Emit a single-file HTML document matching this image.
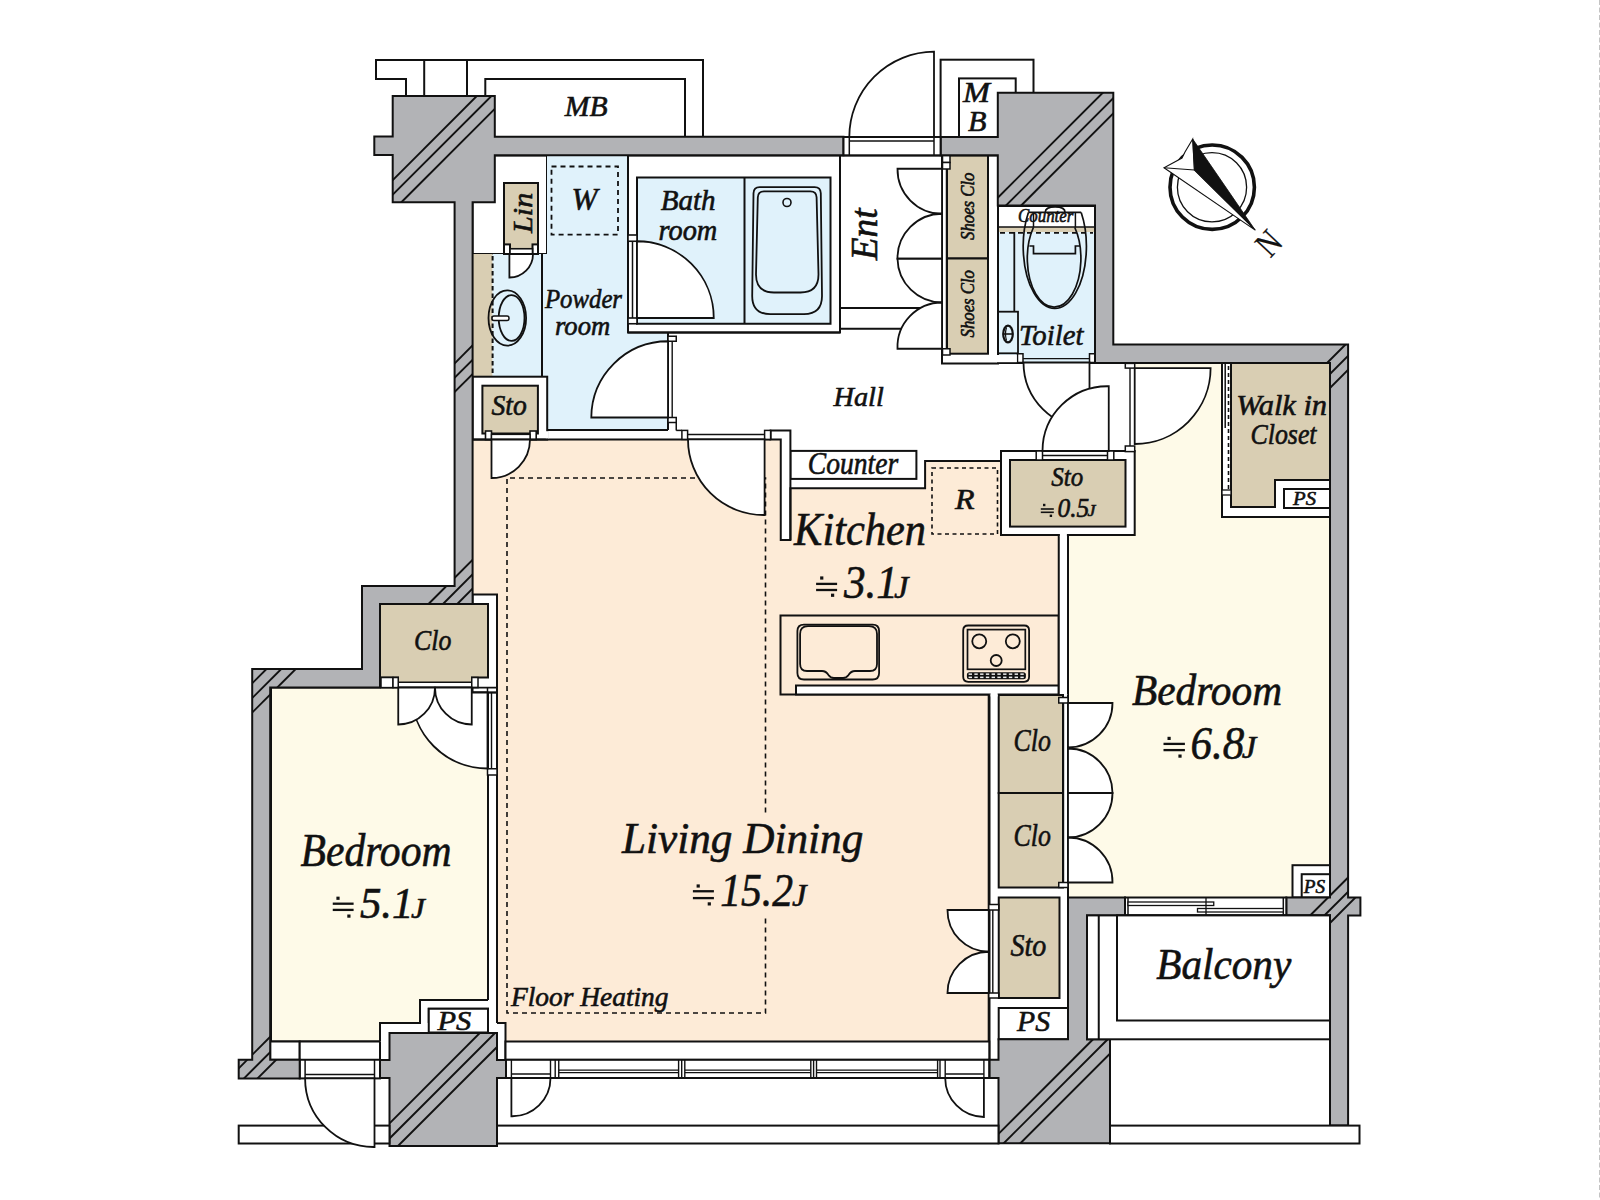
<!DOCTYPE html><html><head><meta charset="utf-8"><style>html,body{margin:0;padding:0;background:#fff;overflow:hidden}svg{display:block}text{font-family:"Liberation Serif",serif;font-style:italic;fill:#111;stroke:#111;stroke-width:0.6px}</style></head><body>
<svg width="1600" height="1200" viewBox="0 0 1600 1200">
<rect x="0" y="0" width="1600" height="1200" fill="#fff"/>
<line x1="1599.5" y1="0" x2="1599.5" y2="1200" stroke="#c4c4c4" stroke-width="1" stroke-dasharray="5,2.5"/>
<polyline points="406,96 406,79 376,79 376,60 703,60 703,136.5" fill="none" stroke="#111" stroke-width="2" />
<line x1="424.2" y1="60" x2="424.2" y2="96" stroke="#111" stroke-width="2" />
<line x1="467" y1="60" x2="467" y2="96" stroke="#111" stroke-width="2" />
<polyline points="485.3,136.5 485.3,79 685,79 685,136.5" fill="none" stroke="#111" stroke-width="2" />
<rect x="940.6" y="59.7" width="92.9" height="77.3" fill="#fff" stroke="#111" stroke-width="2" />
<rect x="959" y="78.4" width="56.7" height="58.6" fill="#fff" stroke="#111" stroke-width="2" />
<polygon points="472.5,439.4 780.75,439.4 780.75,540.1 790.4,540.1 790.4,488.2 925.1,488.2 925.1,460.9 1001,460.9 1001,535 1058.75,535 1058.75,694.5 988.7,694.5 988.7,1041.5 497,1041.5 497,692.5 472.5,692.5" fill="#FDEBD7" stroke="none" stroke-width="2" stroke-linejoin="miter" />
<polygon points="271,687.5 488,687.5 488,1000 420,1000 420,1023 380,1023 380,1041.5 271,1041.5" fill="#FEFAE8" stroke="#111" stroke-width="2" stroke-linejoin="miter" />
<rect x="488" y="692.5" width="9" height="331" fill="#fff"/>
<line x1="488" y1="692.5" x2="488" y2="1000" stroke="#111" stroke-width="2" />
<line x1="497" y1="692.5" x2="497" y2="1023" stroke="#111" stroke-width="2" />
<polygon points="1134.7,363 1330,363 1330,897.5 1068,897.5 1068,535 1134.7,535" fill="#FEFAE8" stroke="none" stroke-width="2" stroke-linejoin="miter" />
<polyline points="765.5,812.5 765.5,478 507,478 507,1013 765.5,1013 765.5,915" fill="none" stroke="#111" stroke-width="1.6" stroke-dasharray="5,4"/>
<rect x="472.5" y="155.5" width="74.5" height="98.5" fill="#fff" stroke="#111" stroke-width="2" />
<polygon points="547,155.5 628,155.5 628,332.8 668,332.8 668,430 547.2,430 547.2,376.7 492.4,376.7 492.4,254 547,254" fill="#E0F2FB" stroke="none" stroke-width="2" stroke-linejoin="miter" />
<rect x="472.6" y="254" width="19.8" height="122.7" fill="#D9CEB3" stroke="none" stroke-width="2" />
<line x1="492.6" y1="256" x2="492.6" y2="376" stroke="#111" stroke-width="2" stroke-dasharray="4.5,3"/>
<line x1="542" y1="254" x2="542" y2="376.7" stroke="#111" stroke-width="2" />
<rect x="551.5" y="166.5" width="66.5" height="68.1" fill="none" stroke="#111" stroke-width="1.8" stroke-dasharray="5,4"/>
<rect x="504" y="183" width="34" height="71" fill="#D9CEB3" stroke="#111" stroke-width="2" />
<rect x="504" y="244.4" width="6" height="9.6" fill="#fff" stroke="#111" stroke-width="2" />
<rect x="532.5" y="244.4" width="5.5" height="9.6" fill="#fff" stroke="#111" stroke-width="2" />
<rect x="510" y="248.75" width="22.5" height="5.25" fill="#fff" stroke="#111" stroke-width="1.6" />
<rect x="472.6" y="376.7" width="74.6" height="62.9" fill="#fff" stroke="#111" stroke-width="2" />
<rect x="482.4" y="385.7" width="55.5" height="47.8" fill="#D9CEB3" stroke="#111" stroke-width="2" />
<rect x="485.5" y="431" width="6" height="8.6" fill="#fff" stroke="#111" stroke-width="1.6" />
<rect x="530" y="431" width="6.2" height="8.6" fill="#fff" stroke="#111" stroke-width="1.6" />
<rect x="491.5" y="434.4" width="38.5" height="5.2" fill="#fff" stroke="#111" stroke-width="1.4" />
<ellipse cx="507.3" cy="318" rx="18.8" ry="27.6" fill="none" stroke="#111" stroke-width="1.8"/>
<ellipse cx="511.6" cy="318" rx="12.9" ry="22.9" fill="none" stroke="#111" stroke-width="1.8"/>
<rect x="492" y="316" width="17" height="4.5" fill="#fff" stroke="#111" stroke-width="1.5" rx="2"/>
<rect x="628" y="155.5" width="212" height="177" fill="#fff" stroke="#111" stroke-width="2" />
<rect x="637" y="177.5" width="193.5" height="146.25" fill="#E0F2FB" stroke="#111" stroke-width="2" />
<line x1="744.5" y1="177.5" x2="744.5" y2="323.75" stroke="#111" stroke-width="2" />
<path d="M759.7,187.2 H814.6 Q820.6,187.2 820.8,193.2 L822,296 Q822,314.1 804,314.1 H770.2 Q752.2,314.1 752.2,296 L753.5,193.2 Q753.7,187.2 759.7,187.2 Z" fill="none" stroke="#111" stroke-width="1.8" />
<path d="M764,191.4 H810.4 Q816.4,191.4 816.6,197.4 L818.5,274.5 Q818.5,292.5 800.5,292.5 H774 Q756,292.5 756,274.5 L757.8,197.4 Q758,191.4 764,191.4 Z" fill="none" stroke="#111" stroke-width="1.8" />
<circle cx="787" cy="202.5" r="4" fill="none" stroke="#111" stroke-width="1.6"/>
<rect x="628" y="235" width="9" height="6.25" fill="#fff" stroke="#111" stroke-width="1.6" />
<rect x="628" y="318" width="9" height="5.75" fill="#fff" stroke="#111" stroke-width="1.6" />
<line x1="632.5" y1="241.25" x2="632.5" y2="318" stroke="#111" stroke-width="1.5" />
<rect x="840" y="155.5" width="102" height="152.5" fill="#fff" stroke="#111" stroke-width="2" />
<rect x="840" y="308" width="102" height="20.75" fill="#fff" stroke="#111" stroke-width="2" />
<rect x="942" y="155.5" width="56" height="208" fill="#fff" stroke="#111" stroke-width="2" />
<rect x="947" y="155.5" width="41" height="103" fill="#D9CEB3" stroke="#111" stroke-width="2" />
<rect x="947" y="258.5" width="41" height="95.2" fill="#D9CEB3" stroke="#111" stroke-width="2" />
<rect x="942.5" y="155.5" width="7.5" height="7" fill="#fff" stroke="#111" stroke-width="1.5" />
<rect x="942.5" y="162.5" width="7.5" height="6.5" fill="#fff" stroke="#111" stroke-width="1.5" />
<rect x="942.5" y="348.75" width="7.5" height="6.25" fill="#fff" stroke="#111" stroke-width="1.5" />
<line x1="946.5" y1="169" x2="946.5" y2="348.75" stroke="#111" stroke-width="1.5" />
<rect x="998" y="206" width="97" height="157" fill="#fff" stroke="#111" stroke-width="2" />
<rect x="998" y="227" width="97" height="5" fill="#D9CEB3" stroke="none" stroke-width="2" />
<rect x="998" y="232" width="97" height="130" fill="#E0F2FB"/>
<line x1="998" y1="227" x2="1095" y2="227" stroke="#111" stroke-width="1.6" />
<line x1="1000" y1="232.9" x2="1093" y2="232.9" stroke="#111" stroke-width="1.6" stroke-dasharray="5,4"/>
<line x1="1014.3" y1="232" x2="1014.3" y2="311.7" stroke="#111" stroke-width="1.8" />
<rect x="998" y="311.7" width="20" height="41.6" fill="#E0F2FB" stroke="#111" stroke-width="1.8" />
<rect x="998" y="206" width="97" height="157" fill="none" stroke="#111" stroke-width="2" />
<rect x="1017.5" y="353.75" width="5.5" height="8.75" fill="#fff" stroke="#111" stroke-width="1.5" />
<rect x="1089.5" y="353.75" width="5.5" height="8.75" fill="#fff" stroke="#111" stroke-width="1.5" />
<line x1="1023" y1="358.6" x2="1089.5" y2="358.6" stroke="#111" stroke-width="1.4" />
<rect x="1001" y="451" width="133.7" height="84" fill="#fff" stroke="#111" stroke-width="2" />
<rect x="1010" y="460" width="115.5" height="66.6" fill="#D9CEB3" stroke="#111" stroke-width="2" />
<rect x="1036.2" y="451" width="6.3" height="9" fill="#fff" stroke="#111" stroke-width="1.5" />
<rect x="1107.5" y="451" width="6.3" height="9" fill="#fff" stroke="#111" stroke-width="1.5" />
<line x1="1042.5" y1="455.5" x2="1107.5" y2="455.5" stroke="#111" stroke-width="1.4" />
<rect x="790.4" y="450.9" width="126" height="28" fill="#fff" stroke="#111" stroke-width="2" />
<rect x="932" y="468" width="65.5" height="66" fill="none" stroke="#111" stroke-width="1.6" stroke-dasharray="4,3.5"/>
<polygon points="770.6,430.4 790.4,430.4 790.4,540.1 780.75,540.1 780.75,439.4 770.6,439.4" fill="#fff" stroke="#111" stroke-width="2" stroke-linejoin="miter" />
<polyline points="790.4,540.1 790.4,488.2 925.1,488.2 925.1,460.9 1001,460.9" fill="none" stroke="#111" stroke-width="2" />
<line x1="472.5" y1="439.4" x2="770.6" y2="439.4" stroke="#111" stroke-width="2" />
<line x1="547.2" y1="430" x2="668" y2="430" stroke="#111" stroke-width="2" />
<line x1="668" y1="332.8" x2="668" y2="430" stroke="#111" stroke-width="2" />
<line x1="628" y1="332.5" x2="840" y2="332.5" stroke="#111" stroke-width="2" />
<rect x="668" y="336.25" width="8.25" height="5" fill="#fff" stroke="#111" stroke-width="1.5" />
<rect x="668" y="417.5" width="8.25" height="5" fill="#fff" stroke="#111" stroke-width="1.5" />
<line x1="672.2" y1="341.25" x2="672.2" y2="417.5" stroke="#111" stroke-width="1.4" />
<line x1="676.25" y1="422.5" x2="676.25" y2="430.4" stroke="#111" stroke-width="1.5" />
<rect x="681.9" y="430.4" width="5.7" height="9" fill="#fff" stroke="#111" stroke-width="1.5" />
<rect x="764.6" y="430.4" width="6" height="9" fill="#fff" stroke="#111" stroke-width="1.5" />
<line x1="687.6" y1="434.5" x2="764.6" y2="434.5" stroke="#111" stroke-width="1.4" />
<line x1="676.25" y1="430.4" x2="681.9" y2="430.4" stroke="#111" stroke-width="1.5" />
<rect x="780.5" y="615.5" width="278.25" height="79" fill="#FDEBD7" stroke="#111" stroke-width="2" />
<rect x="796" y="685.5" width="262.75" height="9" fill="#fff" stroke="#111" stroke-width="2" />
<rect x="1058.75" y="535" width="9.25" height="362.5" fill="#fff" stroke="#111" stroke-width="2" />
<rect x="989.5" y="694.5" width="9.2" height="365.1" fill="#fff"/>
<line x1="989.5" y1="694.5" x2="989.5" y2="1059.6" stroke="#111" stroke-width="2" />
<line x1="988.7" y1="694.5" x2="988.7" y2="1041.5" stroke="#111" stroke-width="2" />
<rect x="998.7" y="694.5" width="69.3" height="344.8" fill="#fff"/>
<line x1="1068" y1="694.5" x2="1068" y2="1039.3" stroke="#111" stroke-width="2" />
<rect x="998.7" y="695" width="64.3" height="98" fill="#D9CEB3" stroke="#111" stroke-width="2" />
<rect x="998.7" y="793" width="64.3" height="94.5" fill="#D9CEB3" stroke="#111" stroke-width="2" />
<rect x="998.75" y="897.5" width="60.75" height="100.5" fill="#D9CEB3" stroke="#111" stroke-width="2" />
<rect x="998.7" y="1008" width="69.3" height="31.3" fill="#fff" stroke="#111" stroke-width="2" />
<rect x="1058.75" y="697.5" width="9.25" height="5.5" fill="#fff" stroke="#111" stroke-width="1.5" />
<rect x="1058.75" y="882.5" width="9.25" height="5" fill="#fff" stroke="#111" stroke-width="1.5" />
<line x1="1063.5" y1="703" x2="1063.5" y2="882.5" stroke="#111" stroke-width="1.4" />
<rect x="988.75" y="904.5" width="10" height="5.5" fill="#fff" stroke="#111" stroke-width="1.5" />
<rect x="988.75" y="993" width="10" height="5" fill="#fff" stroke="#111" stroke-width="1.5" />
<line x1="992.8" y1="910" x2="992.8" y2="993" stroke="#111" stroke-width="1.4" />
<rect x="1222" y="363" width="108" height="154" fill="#fff" stroke="#111" stroke-width="2" />
<polygon points="1231,363 1330,363 1330,480 1275,480 1275,507 1231,507" fill="#D9CEB3" stroke="#111" stroke-width="2" stroke-linejoin="miter" />
<rect x="1284" y="489" width="46" height="19" fill="#fff" stroke="#111" stroke-width="2" />
<line x1="1225.2" y1="363" x2="1225.2" y2="428" stroke="#111" stroke-width="1.5" />
<line x1="1228.5" y1="366" x2="1228.5" y2="490" stroke="#111" stroke-width="1.6" stroke-dasharray="4,3"/>
<rect x="1222" y="490" width="9" height="5" fill="#fff" stroke="#111" stroke-width="1.3" />
<rect x="1125.3" y="363.4" width="9.4" height="4.7" fill="#fff" stroke="#111" stroke-width="1.5" />
<rect x="1125.3" y="446" width="9.4" height="5.6" fill="#fff" stroke="#111" stroke-width="1.5" />
<line x1="1130" y1="368.1" x2="1130" y2="446" stroke="#111" stroke-width="1.4" />
<rect x="472.5" y="594.5" width="24.5" height="98" fill="#fff" stroke="#111" stroke-width="2" />
<rect x="380" y="604" width="108" height="73.5" fill="#D9CEB3" stroke="#111" stroke-width="2" />
<rect x="381" y="677.5" width="12" height="10.1" fill="#fff" stroke="#111" stroke-width="1.5" />
<rect x="393" y="677.5" width="5.25" height="10.1" fill="#fff" stroke="#111" stroke-width="1.5" />
<rect x="471.75" y="677.5" width="6.25" height="10.1" fill="#fff" stroke="#111" stroke-width="1.5" />
<rect x="399" y="676" width="72" height="6.2" fill="#D9CEB3"/>
<line x1="398.25" y1="682.2" x2="471.75" y2="682.2" stroke="#111" stroke-width="1.5" />
<line x1="398.25" y1="687.6" x2="497" y2="687.6" stroke="#111" stroke-width="1.6" />
<line x1="471.75" y1="692.5" x2="497" y2="692.5" stroke="#111" stroke-width="1.6" />
<line x1="487.5" y1="687.6" x2="487.5" y2="692.5" stroke="#111" stroke-width="1.5" />
<rect x="487.5" y="768.75" width="9.5" height="6.25" fill="#fff" stroke="#111" stroke-width="1.5" />
<line x1="491.5" y1="692.5" x2="491.5" y2="768.75" stroke="#111" stroke-width="1.4" />
<rect x="428.75" y="1008.75" width="59.25" height="23.75" fill="#fff" stroke="#111" stroke-width="2" />
<rect x="1292.5" y="865.2" width="37.5" height="32.3" fill="#fff" stroke="#111" stroke-width="2" />
<rect x="1301.7" y="874.2" width="28.3" height="23.3" fill="#fff" stroke="#111" stroke-width="2" />
<rect x="270.2" y="1041.5" width="29.5" height="18.3" fill="#fff" stroke="#111" stroke-width="2" />
<rect x="299.7" y="1041.5" width="80.3" height="36.9" fill="#fff" stroke="#111" stroke-width="2" />
<line x1="299.7" y1="1059.8" x2="380" y2="1059.8" stroke="#111" stroke-width="2" />
<line x1="305.1" y1="1074.4" x2="374.5" y2="1074.4" stroke="#111" stroke-width="1.5" />
<line x1="305.1" y1="1059.8" x2="305.1" y2="1078.4" stroke="#111" stroke-width="1.5" />
<line x1="374.5" y1="1059.8" x2="374.5" y2="1078.4" stroke="#111" stroke-width="1.5" />
<rect x="380" y="1023" width="125.5" height="37" fill="#fff"/>
<polyline points="380,1041.5 380,1023 420,1023 420,1000 488,1000" fill="none" stroke="#111" stroke-width="2" />
<polyline points="380,1041.5 380,1059.8" fill="none" stroke="#111" stroke-width="2" />
<rect x="428.75" y="1008.75" width="59.25" height="23.75" fill="#fff" stroke="#111" stroke-width="2" />
<polyline points="497,1023 505.5,1023 505.5,1060" fill="none" stroke="#111" stroke-width="2" />
<rect x="505.5" y="1041.5" width="483.8" height="18.3" fill="#fff" stroke="#111" stroke-width="2" />
<rect x="505.5" y="1059.8" width="483.8" height="18.2" fill="#fff" stroke="#111" stroke-width="2" />
<line x1="558.75" y1="1070.1" x2="678.6" y2="1070.1" stroke="#111" stroke-width="1.3" />
<line x1="558.75" y1="1072.6" x2="678.6" y2="1072.6" stroke="#111" stroke-width="1.3" />
<line x1="684.8" y1="1070.1" x2="810.8" y2="1070.1" stroke="#111" stroke-width="1.3" />
<line x1="684.8" y1="1072.6" x2="810.8" y2="1072.6" stroke="#111" stroke-width="1.3" />
<line x1="816.5" y1="1070.1" x2="937.6" y2="1070.1" stroke="#111" stroke-width="1.3" />
<line x1="816.5" y1="1072.6" x2="937.6" y2="1072.6" stroke="#111" stroke-width="1.3" />
<line x1="511.4" y1="1074" x2="550.5" y2="1074" stroke="#111" stroke-width="1.4" />
<line x1="945.2" y1="1074" x2="983.9" y2="1074" stroke="#111" stroke-width="1.4" />
<line x1="511.4" y1="1059.8" x2="511.4" y2="1078" stroke="#111" stroke-width="1.4" />
<line x1="550.5" y1="1059.8" x2="550.5" y2="1078" stroke="#111" stroke-width="1.4" />
<line x1="555.2" y1="1059.8" x2="555.2" y2="1078" stroke="#111" stroke-width="1.4" />
<line x1="558.75" y1="1059.8" x2="558.75" y2="1078" stroke="#111" stroke-width="1.4" />
<line x1="678.6" y1="1059.8" x2="678.6" y2="1078" stroke="#111" stroke-width="1.4" />
<line x1="681.7" y1="1059.8" x2="681.7" y2="1078" stroke="#111" stroke-width="1.4" />
<line x1="684.8" y1="1059.8" x2="684.8" y2="1078" stroke="#111" stroke-width="1.4" />
<line x1="810.8" y1="1059.8" x2="810.8" y2="1078" stroke="#111" stroke-width="1.4" />
<line x1="813.6" y1="1059.8" x2="813.6" y2="1078" stroke="#111" stroke-width="1.4" />
<line x1="816.5" y1="1059.8" x2="816.5" y2="1078" stroke="#111" stroke-width="1.4" />
<line x1="937.6" y1="1059.8" x2="937.6" y2="1078" stroke="#111" stroke-width="1.4" />
<line x1="940" y1="1059.8" x2="940" y2="1078" stroke="#111" stroke-width="1.4" />
<line x1="945.2" y1="1059.8" x2="945.2" y2="1078" stroke="#111" stroke-width="1.4" />
<line x1="983.9" y1="1059.8" x2="983.9" y2="1078" stroke="#111" stroke-width="1.4" />
<rect x="545.9" y="431.2" width="2.8" height="7.2" fill="#fff"/>
<rect x="1059.9" y="533" width="7" height="4" fill="#fff"/>
<rect x="990.6" y="692.5" width="7" height="4" fill="#fff"/>
<rect x="996.6" y="355" width="20.2" height="7.2" fill="#fff"/>
<polygon points="392.7,96 494.8,96 494.8,136.7 843.5,136.7 843.5,155.3 494.8,155.3 494.8,202.2 472.6,202.2 472.6,604 380,604 380,687.5 270.2,687.5 270.2,1059.8 299.7,1059.8 299.7,1078.4 238.7,1078.4 238.7,1059.8 252.2,1059.8 252.2,669 362,669 362,586 454.6,586 454.6,202.2 392.7,202.2 392.7,155.1 374.3,155.1 374.3,136.6 392.7,136.6" fill="#B2B3B6" stroke="#111" stroke-width="2" stroke-linejoin="miter" />
<polygon points="940.6,137 997.8,137 997.8,92.8 1113.3,92.8 1113.3,344.5 1348.1,344.5 1348.1,897.5 1360.4,897.5 1360.4,915.4 1348.1,915.4 1348.1,1125.5 1330,1125.5 1330,915.4 1286.3,915.4 1286.3,897.5 1330,897.5 1330,363 1095,363 1095,205.5 997.8,205.5 997.8,155.3 940.6,155.3" fill="#B2B3B6" stroke="#111" stroke-width="2" stroke-linejoin="miter" />
<polygon points="1068,897.5 1125,897.5 1125,915.4 1087,915.4 1087,1039.3 1110,1039.3 1110,1143.3 998.5,1143.3 998.5,1078 989.6,1078 989.6,1059.8 998.5,1059.8 998.5,1039.3 1068,1039.3" fill="#B2B3B6" stroke="#111" stroke-width="2" stroke-linejoin="miter" />
<polygon points="389.5,1033 497,1033 497,1060 506,1060 506,1078 497,1078 497,1145.9 389.5,1145.9 389.5,1078 380,1078 380,1060 389.5,1060" fill="#B2B3B6" stroke="#111" stroke-width="2" stroke-linejoin="miter" />
<clipPath id="hA"><polygon points="392.7,96 494.8,96 494.8,136.7 843.5,136.7 843.5,155.3 494.8,155.3 494.8,202.2 472.6,202.2 472.6,604 380,604 380,687.5 270.2,687.5 270.2,1059.8 299.7,1059.8 299.7,1078.4 238.7,1078.4 238.7,1059.8 252.2,1059.8 252.2,669 362,669 362,586 454.6,586 454.6,202.2 392.7,202.2 392.7,155.1 374.3,155.1 374.3,136.6 392.7,136.6"/></clipPath>
<g clip-path="url(#hA)">
<line x1="392" y1="180.8" x2="476.8" y2="96" stroke="#111" stroke-width="1.9"/>
<line x1="392" y1="195.4" x2="491.4" y2="96" stroke="#111" stroke-width="1.9"/>
<line x1="401.1" y1="202.5" x2="495" y2="108.6" stroke="#111" stroke-width="1.9"/>
</g>
<clipPath id="hA2"><polygon points="392.7,96 494.8,96 494.8,136.7 843.5,136.7 843.5,155.3 494.8,155.3 494.8,202.2 472.6,202.2 472.6,604 380,604 380,687.5 270.2,687.5 270.2,1059.8 299.7,1059.8 299.7,1078.4 238.7,1078.4 238.7,1059.8 252.2,1059.8 252.2,669 362,669 362,586 454.6,586 454.6,202.2 392.7,202.2 392.7,155.1 374.3,155.1 374.3,136.6 392.7,136.6"/></clipPath>
<g clip-path="url(#hA2)">
<line x1="454" y1="364" x2="473" y2="345" stroke="#111" stroke-width="1.9"/>
<line x1="454" y1="378.4" x2="473" y2="359.4" stroke="#111" stroke-width="1.9"/>
<line x1="454" y1="392.7" x2="473" y2="373.7" stroke="#111" stroke-width="1.9"/>
</g>
<clipPath id="hA3"><polygon points="392.7,96 494.8,96 494.8,136.7 843.5,136.7 843.5,155.3 494.8,155.3 494.8,202.2 472.6,202.2 472.6,604 380,604 380,687.5 270.2,687.5 270.2,1059.8 299.7,1059.8 299.7,1078.4 238.7,1078.4 238.7,1059.8 252.2,1059.8 252.2,669 362,669 362,586 454.6,586 454.6,202.2 392.7,202.2 392.7,155.1 374.3,155.1 374.3,136.6 392.7,136.6"/></clipPath>
<g clip-path="url(#hA3)">
<line x1="428" y1="604.5" x2="473" y2="559.5" stroke="#111" stroke-width="1.9"/>
<line x1="442.5" y1="604.5" x2="473" y2="574" stroke="#111" stroke-width="1.9"/>
<line x1="456.75" y1="604.5" x2="473" y2="588.25" stroke="#111" stroke-width="1.9"/>
</g>
<clipPath id="hA4"><polygon points="392.7,96 494.8,96 494.8,136.7 843.5,136.7 843.5,155.3 494.8,155.3 494.8,202.2 472.6,202.2 472.6,604 380,604 380,687.5 270.2,687.5 270.2,1059.8 299.7,1059.8 299.7,1078.4 238.7,1078.4 238.7,1059.8 252.2,1059.8 252.2,669 362,669 362,586 454.6,586 454.6,202.2 392.7,202.2 392.7,155.1 374.3,155.1 374.3,136.6 392.7,136.6"/></clipPath>
<g clip-path="url(#hA4)">
<line x1="250" y1="685.5" x2="270.5" y2="665" stroke="#111" stroke-width="1.9"/>
<line x1="250" y1="700.25" x2="285.25" y2="665" stroke="#111" stroke-width="1.9"/>
<line x1="250" y1="714.75" x2="299.75" y2="665" stroke="#111" stroke-width="1.9"/>
</g>
<clipPath id="hA5"><polygon points="392.7,96 494.8,96 494.8,136.7 843.5,136.7 843.5,155.3 494.8,155.3 494.8,202.2 472.6,202.2 472.6,604 380,604 380,687.5 270.2,687.5 270.2,1059.8 299.7,1059.8 299.7,1078.4 238.7,1078.4 238.7,1059.8 252.2,1059.8 252.2,669 362,669 362,586 454.6,586 454.6,202.2 392.7,202.2 392.7,155.1 374.3,155.1 374.3,136.6 392.7,136.6"/></clipPath>
<g clip-path="url(#hA5)">
<line x1="238" y1="1069" x2="272" y2="1035" stroke="#111" stroke-width="1.9"/>
<line x1="242.4" y1="1080" x2="287.4" y2="1035" stroke="#111" stroke-width="1.9"/>
<line x1="256" y1="1080" x2="300" y2="1036" stroke="#111" stroke-width="1.9"/>
</g>
<clipPath id="hB"><polygon points="940.6,137 997.8,137 997.8,92.8 1113.3,92.8 1113.3,344.5 1348.1,344.5 1348.1,897.5 1360.4,897.5 1360.4,915.4 1348.1,915.4 1348.1,1125.5 1330,1125.5 1330,915.4 1286.3,915.4 1286.3,897.5 1330,897.5 1330,363 1095,363 1095,205.5 997.8,205.5 997.8,155.3 940.6,155.3"/></clipPath>
<g clip-path="url(#hB)">
<line x1="997" y1="198.5" x2="1103.5" y2="92" stroke="#111" stroke-width="1.9"/>
<line x1="1005.5" y1="206" x2="1114" y2="97.5" stroke="#111" stroke-width="1.9"/>
<line x1="1020.7" y1="206" x2="1114" y2="112.7" stroke="#111" stroke-width="1.9"/>
</g>
<clipPath id="hB2"><polygon points="940.6,137 997.8,137 997.8,92.8 1113.3,92.8 1113.3,344.5 1348.1,344.5 1348.1,897.5 1360.4,897.5 1360.4,915.4 1348.1,915.4 1348.1,1125.5 1330,1125.5 1330,915.4 1286.3,915.4 1286.3,897.5 1330,897.5 1330,363 1095,363 1095,205.5 997.8,205.5 997.8,155.3 940.6,155.3"/></clipPath>
<g clip-path="url(#hB2)">
<line x1="1320" y1="370" x2="1346" y2="344" stroke="#111" stroke-width="1.9"/>
<line x1="1320" y1="384" x2="1349" y2="355" stroke="#111" stroke-width="1.9"/>
<line x1="1320" y1="398" x2="1349" y2="369" stroke="#111" stroke-width="1.9"/>
</g>
<clipPath id="hB3"><polygon points="940.6,137 997.8,137 997.8,92.8 1113.3,92.8 1113.3,344.5 1348.1,344.5 1348.1,897.5 1360.4,897.5 1360.4,915.4 1348.1,915.4 1348.1,1125.5 1330,1125.5 1330,915.4 1286.3,915.4 1286.3,897.5 1330,897.5 1330,363 1095,363 1095,205.5 997.8,205.5 997.8,155.3 940.6,155.3"/></clipPath>
<g clip-path="url(#hB3)">
<line x1="1300.6" y1="925" x2="1350.6" y2="875" stroke="#111" stroke-width="1.9"/>
<line x1="1314.8" y1="925" x2="1361" y2="878.8" stroke="#111" stroke-width="1.9"/>
<line x1="1328" y1="925" x2="1361" y2="892" stroke="#111" stroke-width="1.9"/>
</g>
<clipPath id="hC"><polygon points="1068,897.5 1125,897.5 1125,915.4 1087,915.4 1087,1039.3 1110,1039.3 1110,1143.3 998.5,1143.3 998.5,1078 989.6,1078 989.6,1059.8 998.5,1059.8 998.5,1039.3 1068,1039.3"/></clipPath>
<g clip-path="url(#hC)">
<line x1="998" y1="1134.3" x2="1093.3" y2="1039" stroke="#111" stroke-width="1.9"/>
<line x1="1003" y1="1144" x2="1108" y2="1039" stroke="#111" stroke-width="1.9"/>
<line x1="1019.7" y1="1144" x2="1111" y2="1052.7" stroke="#111" stroke-width="1.9"/>
</g>
<clipPath id="hD"><polygon points="389.5,1033 497,1033 497,1060 506,1060 506,1078 497,1078 497,1145.9 389.5,1145.9 389.5,1078 380,1078 380,1060 389.5,1060"/></clipPath>
<g clip-path="url(#hD)">
<line x1="389" y1="1123.8" x2="479.8" y2="1033" stroke="#111" stroke-width="1.9"/>
<line x1="389" y1="1139" x2="495" y2="1033" stroke="#111" stroke-width="1.9"/>
<line x1="398" y1="1146" x2="498" y2="1046" stroke="#111" stroke-width="1.9"/>
</g>
<rect x="843.5" y="137" width="97.1" height="18.3" fill="#fff" stroke="#111" stroke-width="2" />
<line x1="849.3" y1="141" x2="934" y2="141" stroke="#111" stroke-width="1.5" />
<line x1="849.3" y1="137" x2="849.3" y2="155.3" stroke="#111" stroke-width="1.5" />
<line x1="934" y1="137" x2="934" y2="155.3" stroke="#111" stroke-width="1.5" />
<rect x="1125" y="897.5" width="161.3" height="17.9" fill="#fff" stroke="#111" stroke-width="2" />
<line x1="1128" y1="897.5" x2="1128" y2="915.4" stroke="#111" stroke-width="1.5" />
<line x1="1283.3" y1="897.5" x2="1283.3" y2="915.4" stroke="#111" stroke-width="1.5" />
<rect x="1128" y="902" width="85.75" height="3.5" fill="#fff" stroke="#111" stroke-width="1.3" />
<rect x="1197.5" y="908.5" width="85.8" height="3.5" fill="#fff" stroke="#111" stroke-width="1.3" />
<line x1="1206" y1="897.5" x2="1206" y2="915.4" stroke="#111" stroke-width="1.3" />
<rect x="1087" y="915.4" width="243" height="123.9" fill="#fff" stroke="#111" stroke-width="2" />
<line x1="1098.75" y1="915.4" x2="1098.75" y2="1039.3" stroke="#111" stroke-width="2" />
<rect x="1117" y="915.4" width="213" height="105.1" fill="#fff" stroke="#111" stroke-width="2" />
<rect x="238.7" y="1125.6" width="150.8" height="17.9" fill="#fff" stroke="#111" stroke-width="2" />
<rect x="497" y="1125.6" width="501.5" height="17.9" fill="#fff" stroke="#111" stroke-width="2" />
<rect x="1110" y="1125.6" width="249.5" height="17.9" fill="#fff" stroke="#111" stroke-width="2" />
<path d="M934,137 L934,51.6 A85.4,85.4 0 0 0 849.3,137 Z" fill="#fff" stroke="#111" stroke-width="1.8" />
<path d="M942,168.75 L897.5,168.75 A44.5,44.5 0 0 0 942,213.75 Z" fill="#fff" stroke="#111" stroke-width="1.8" />
<path d="M942,258.75 L897.5,258.75 A44.5,44.5 0 0 1 942,213.75 Z" fill="#fff" stroke="#111" stroke-width="1.8" />
<path d="M942,258.75 L897.5,258.75 A44.5,44.5 0 0 0 942,302.5 Z" fill="#fff" stroke="#111" stroke-width="1.8" />
<path d="M942,348.75 L897.5,348.75 A44.5,44.5 0 0 1 942,302.5 Z" fill="#fff" stroke="#111" stroke-width="1.8" />
<path d="M637,318 L713.75,318 A76.75,76.75 0 0 0 637,241.25 Z" fill="#fff" stroke="#111" stroke-width="1.8" />
<path d="M668,417.5 L591.3,417.5 A76.7,76.7 0 0 1 668,341.25 Z" fill="#fff" stroke="#111" stroke-width="1.8" />
<path d="M509.4,254 L509.4,277.5 A23.5,23.5 0 0 0 533,254 Z" fill="#fff" stroke="#111" stroke-width="1.8" />
<path d="M491.5,439.6 L491.5,478 A38.4,38.4 0 0 0 530,439.6 Z" fill="#fff" stroke="#111" stroke-width="1.8" />
<path d="M764.6,439.4 L764.6,515 A75.6,75.6 0 0 1 688,439.4 Z" fill="#fff" stroke="#111" stroke-width="1.8" />
<path d="M1089.5,362.5 L1089.5,428.5 A66,66 0 0 1 1023.5,362.5 Z" fill="#fff" stroke="#111" stroke-width="1.8" />
<path d="M1108.75,451 L1108.75,386.25 A64.75,64.75 0 0 0 1042.5,451 Z" fill="#fff" stroke="#111" stroke-width="1.8" />
<path d="M1134.7,368.1 L1210.6,368.1 A75.9,75.9 0 0 1 1134.7,444 Z" fill="#fff" stroke="#111" stroke-width="1.8" />
<path d="M487.5,692.5 L487.5,768.5 A76,76 0 0 1 411.5,692.5 Z" fill="#fff" stroke="#111" stroke-width="1.8" />
<path d="M398.25,687.7 L398.25,724.5 A36.8,36.8 0 0 0 435,687.7 Z" fill="#fff" stroke="#111" stroke-width="1.8" />
<path d="M471.75,687.7 L471.75,724.5 A36.8,36.8 0 0 1 435,687.7 Z" fill="#fff" stroke="#111" stroke-width="1.8" />
<path d="M1068,703 L1112.5,703 A44.5,44.5 0 0 1 1068,747.5 Z" fill="#fff" stroke="#111" stroke-width="1.8" />
<path d="M1068,793 L1112.5,793 A44.5,44.5 0 0 0 1068,748.5 Z" fill="#fff" stroke="#111" stroke-width="1.8" />
<path d="M1068,793 L1112.5,793 A44.5,44.5 0 0 1 1068,837.5 Z" fill="#fff" stroke="#111" stroke-width="1.8" />
<path d="M1068,882.5 L1112.5,882.5 A44.5,44.5 0 0 0 1068,837.5 Z" fill="#fff" stroke="#111" stroke-width="1.8" />
<path d="M988.75,910 L947.5,910 A41.25,41.25 0 0 0 988.75,951.75 Z" fill="#fff" stroke="#111" stroke-width="1.8" />
<path d="M988.75,993 L947.5,993 A41.25,41.25 0 0 1 988.75,951.75 Z" fill="#fff" stroke="#111" stroke-width="1.8" />
<path d="M374.5,1078.4 L374.5,1147 A68.6,68.6 0 0 1 305.1,1078.4 Z" fill="#fff" stroke="#111" stroke-width="1.8" />
<path d="M511.4,1078 L511.4,1116.25 A38.25,38.25 0 0 0 550.5,1078 Z" fill="#fff" stroke="#111" stroke-width="1.8" />
<path d="M983.9,1078 L983.9,1117 A39,39 0 0 1 945.2,1078 Z" fill="#fff" stroke="#111" stroke-width="1.8" />
<path d="M804,624.6 H872.6 Q879.1,624.6 879.1,631.1 V673 Q879.1,679.5 872.6,679.5 H804 Q797.4,679.5 797.4,673 V631.1 Q797.4,624.6 804,624.6 Z" fill="none" stroke="#111" stroke-width="1.8" />
<path d="M800.1,634 Q800.1,626.2 808,626.2 H869 Q877,626.2 877,634 V664 Q877,671 870,671 H855 Q851,671 848.5,675 Q846.5,678 843,678 H834 Q830.5,678 828.5,675 Q826,671 822,671 H807 Q800.1,671 800.1,664 Z" fill="none" stroke="#111" stroke-width="1.8" />
<path d="M968.2,625.5 H1024.1 Q1029.1,625.5 1029.1,630.5 V676.8 Q1029.1,681.8 1024.1,681.8 H968.2 Q963.2,681.8 963.2,676.8 V630.5 Q963.2,625.5 968.2,625.5 Z" fill="none" stroke="#111" stroke-width="1.8" />
<rect x="967.5" y="629.6" width="57.8" height="39.7" fill="none" stroke="#111" stroke-width="1.7" />
<rect x="966.9" y="672.2" width="59" height="7" rx="2.5" fill="#111"/>
<rect x="968.60" y="673.4" width="3.4" height="1.5" fill="#eee"/>
<rect x="968.60" y="676.6" width="3.4" height="1.5" fill="#eee"/>
<rect x="974.35" y="673.4" width="3.4" height="1.5" fill="#eee"/>
<rect x="974.35" y="676.6" width="3.4" height="1.5" fill="#eee"/>
<rect x="980.10" y="673.4" width="3.4" height="1.5" fill="#eee"/>
<rect x="980.10" y="676.6" width="3.4" height="1.5" fill="#eee"/>
<rect x="985.85" y="673.4" width="3.4" height="1.5" fill="#eee"/>
<rect x="985.85" y="676.6" width="3.4" height="1.5" fill="#eee"/>
<rect x="991.60" y="673.4" width="3.4" height="1.5" fill="#eee"/>
<rect x="991.60" y="676.6" width="3.4" height="1.5" fill="#eee"/>
<rect x="997.35" y="673.4" width="3.4" height="1.5" fill="#eee"/>
<rect x="997.35" y="676.6" width="3.4" height="1.5" fill="#eee"/>
<rect x="1003.10" y="673.4" width="3.4" height="1.5" fill="#eee"/>
<rect x="1003.10" y="676.6" width="3.4" height="1.5" fill="#eee"/>
<rect x="1008.85" y="673.4" width="3.4" height="1.5" fill="#eee"/>
<rect x="1008.85" y="676.6" width="3.4" height="1.5" fill="#eee"/>
<rect x="1014.60" y="673.4" width="3.4" height="1.5" fill="#eee"/>
<rect x="1014.60" y="676.6" width="3.4" height="1.5" fill="#eee"/>
<rect x="1020.35" y="673.4" width="3.4" height="1.5" fill="#eee"/>
<rect x="1020.35" y="676.6" width="3.4" height="1.5" fill="#eee"/>
<circle cx="979.25" cy="641.3" r="7" fill="none" stroke="#111" stroke-width="1.8"/>
<circle cx="1012.8" cy="641.3" r="7" fill="none" stroke="#111" stroke-width="1.8"/>
<circle cx="996.2" cy="660.5" r="5.5" fill="none" stroke="#111" stroke-width="1.8"/>
<path d="M1045.2,212.4 Q1045.2,206.9 1055.1,206.9 Q1065.1,206.9 1065.1,212.4" fill="none" stroke="#111" stroke-width="1.6" />
<path d="M1028.4,212.4 A31.6,62 0 1 0 1081.2,212.4" fill="none" stroke="#111" stroke-width="1.7" />
<path d="M1033.4,227.5 A26.8,48.7 0 1 0 1074.8,227.5" fill="none" stroke="#111" stroke-width="1.7" />
<line x1="1028.4" y1="212.4" x2="1081.2" y2="212.4" stroke="#111" stroke-width="1.6" />
<line x1="1033.5" y1="212.4" x2="1033.5" y2="227.5" stroke="#111" stroke-width="1.5" />
<line x1="1075.4" y1="212.4" x2="1075.4" y2="227.5" stroke="#111" stroke-width="1.5" />
<polyline points="1029.4,246 1033.5,246 1033.5,253.6 1075.4,253.6 1075.4,246 1080,246" fill="none" stroke="#111" stroke-width="1.7" />
<ellipse cx="1008" cy="334" rx="4.8" ry="8.3" fill="none" stroke="#111" stroke-width="2.2"/>
<line x1="1003.5" y1="334" x2="1012.5" y2="334" stroke="#111" stroke-width="1.6" />
<path d="M1006.5,327.5 Q1004.5,334 1006.5,340.5" fill="none" stroke="#111" stroke-width="1.2" />
<text x="564.75" y="116.25" font-size="29.39" textLength="42.82" lengthAdjust="spacingAndGlyphs">MB</text>
<text x="571.50" y="210.00" font-size="31.45" textLength="26.03" lengthAdjust="spacingAndGlyphs">W</text>
<text x="660.75" y="210.00" font-size="28.63" textLength="54.82" lengthAdjust="spacingAndGlyphs">Bath</text>
<text x="658.50" y="239.50" font-size="28.63" textLength="58.81" lengthAdjust="spacingAndGlyphs">room</text>
<text x="545.00" y="308.30" font-size="26.72" textLength="77.00" lengthAdjust="spacingAndGlyphs">Powder</text>
<text x="555.00" y="335.40" font-size="26.72" textLength="55.19" lengthAdjust="spacingAndGlyphs">room</text>
<text x="1018.00" y="222.00" font-size="18.93" textLength="55.32" lengthAdjust="spacingAndGlyphs">Counter</text>
<text x="1019.00" y="344.50" font-size="30.08" textLength="64.42" lengthAdjust="spacingAndGlyphs">Toilet</text>
<text x="833.50" y="406.00" font-size="28.24" textLength="50.28" lengthAdjust="spacingAndGlyphs">Hall</text>
<text x="807.75" y="473.60" font-size="30.69" textLength="90.37" lengthAdjust="spacingAndGlyphs">Counter</text>
<text x="955.00" y="508.75" font-size="28.63" textLength="19.55" lengthAdjust="spacingAndGlyphs">R</text>
<text x="1051.30" y="485.70" font-size="27.63" textLength="31.98" lengthAdjust="spacingAndGlyphs">Sto</text>
<text x="1236.20" y="415.00" font-size="29.01" textLength="90.87" lengthAdjust="spacingAndGlyphs">Walk in</text>
<text x="1250.50" y="444.00" font-size="29.01" textLength="66.06" lengthAdjust="spacingAndGlyphs">Closet</text>
<text x="1293.00" y="505.00" font-size="19.85" textLength="23.00" lengthAdjust="spacingAndGlyphs">PS</text>
<text x="794.10" y="544.50" font-size="45.42" textLength="131.91" lengthAdjust="spacingAndGlyphs">Kitchen</text>
<text x="414.00" y="649.50" font-size="29.77" textLength="37.31" lengthAdjust="spacingAndGlyphs">Clo</text>
<text x="1132.00" y="704.50" font-size="43.51" textLength="150.01" lengthAdjust="spacingAndGlyphs">Bedroom</text>
<text x="1013.50" y="750.75" font-size="31.68" textLength="37.37" lengthAdjust="spacingAndGlyphs">Clo</text>
<text x="1013.50" y="845.75" font-size="31.68" textLength="37.37" lengthAdjust="spacingAndGlyphs">Clo</text>
<text x="622.00" y="853.10" font-size="43.97" textLength="241.30" lengthAdjust="spacingAndGlyphs">Living Dining</text>
<text x="300.50" y="865.50" font-size="46.56" textLength="151.04" lengthAdjust="spacingAndGlyphs">Bedroom</text>
<text x="511.00" y="1006.00" font-size="28.24" textLength="157.51" lengthAdjust="spacingAndGlyphs">Floor Heating</text>
<text x="437.50" y="1030.00" font-size="27.48" textLength="33.77" lengthAdjust="spacingAndGlyphs">PS</text>
<text x="1010.50" y="956.25" font-size="30.53" textLength="35.83" lengthAdjust="spacingAndGlyphs">Sto</text>
<text x="1017.00" y="1031.25" font-size="29.39" textLength="33.00" lengthAdjust="spacingAndGlyphs">PS</text>
<text x="1156.25" y="978.75" font-size="43.89" textLength="135.01" lengthAdjust="spacingAndGlyphs">Balcony</text>
<text x="1303.75" y="892.50" font-size="19.08" textLength="21.28" lengthAdjust="spacingAndGlyphs">PS</text>
<text x="491.50" y="415.00" font-size="29.31" textLength="35.33" lengthAdjust="spacingAndGlyphs">Sto</text>
<text x="963.00" y="101.90" font-size="29.24" textLength="26.94" lengthAdjust="spacingAndGlyphs">M</text>
<text x="968.00" y="131.00" font-size="28.70" textLength="18.45" lengthAdjust="spacingAndGlyphs">B</text>
<text x="843.90" y="597.90" font-size="47.02" textLength="54.05" lengthAdjust="spacingAndGlyphs">3.1</text>
<text x="894.10" y="597.50" font-size="31.45" textLength="14.45" lengthAdjust="spacingAndGlyphs">J</text>
<text x="1190.40" y="758.50" font-size="46.41" textLength="53.85" lengthAdjust="spacingAndGlyphs">6.8</text>
<text x="1241.70" y="758.10" font-size="30.84" textLength="14.45" lengthAdjust="spacingAndGlyphs">J</text>
<text x="720.20" y="906.10" font-size="46.11" textLength="72.96" lengthAdjust="spacingAndGlyphs">15.2</text>
<text x="792.00" y="906.00" font-size="30.53" textLength="14.45" lengthAdjust="spacingAndGlyphs">J</text>
<text x="359.90" y="917.80" font-size="44.73" textLength="53.59" lengthAdjust="spacingAndGlyphs">5.1</text>
<text x="410.90" y="917.80" font-size="30.38" textLength="13.82" lengthAdjust="spacingAndGlyphs">J</text>
<text x="1057.40" y="516.60" font-size="27.02" textLength="31.85" lengthAdjust="spacingAndGlyphs">0.5</text>
<text x="1087.60" y="516.30" font-size="17.25" textLength="7.96" lengthAdjust="spacingAndGlyphs">J</text>
<text x="0" y="0" font-size="27.94" textLength="40.24" lengthAdjust="spacingAndGlyphs" transform="translate(531.90,233.00) rotate(-90)">Lin</text>
<text x="0" y="0" font-size="37.25" textLength="51.88" lengthAdjust="spacingAndGlyphs" transform="translate(877.40,260.25) rotate(-90)">Ent</text>
<text x="0" y="0" font-size="18.63" textLength="67.51" lengthAdjust="spacingAndGlyphs" transform="translate(974.40,240.00) rotate(-90)">Shoes Clo</text>
<text x="0" y="0" font-size="18.63" textLength="67.51" lengthAdjust="spacingAndGlyphs" transform="translate(974.40,337.50) rotate(-90)">Shoes Clo</text>
<rect x="816.10" y="582.75" width="21.00" height="2.3" fill="#111"/>
<rect x="816.10" y="588.85" width="21.00" height="2.3" fill="#111"/>
<rect x="820.15" y="576.40" width="3.2" height="3.2" fill="#111"/>
<rect x="831.00" y="593.65" width="3.2" height="3.2" fill="#111"/>
<rect x="1163.50" y="742.75" width="21.40" height="2.3" fill="#111"/>
<rect x="1163.50" y="748.95" width="21.40" height="2.3" fill="#111"/>
<rect x="1167.50" y="736.80" width="3.2" height="3.2" fill="#111"/>
<rect x="1178.40" y="754.50" width="3.2" height="3.2" fill="#111"/>
<rect x="692.90" y="890.10" width="21.00" height="2.3" fill="#111"/>
<rect x="692.90" y="896.95" width="21.00" height="2.3" fill="#111"/>
<rect x="696.60" y="884.40" width="3.2" height="3.2" fill="#111"/>
<rect x="707.70" y="902.30" width="3.2" height="3.2" fill="#111"/>
<rect x="332.75" y="902.55" width="20.85" height="2.3" fill="#111"/>
<rect x="332.75" y="908.75" width="20.85" height="2.3" fill="#111"/>
<rect x="336.40" y="896.65" width="3.2" height="3.2" fill="#111"/>
<rect x="347.30" y="914.50" width="3.2" height="3.2" fill="#111"/>
<rect x="1040.80" y="508.20" width="13.00" height="1.6" fill="#111"/>
<rect x="1040.80" y="511.50" width="13.00" height="1.6" fill="#111"/>
<rect x="1043.00" y="503.80" width="2.4" height="2.4" fill="#111"/>
<rect x="1049.70" y="514.60" width="2.4" height="2.4" fill="#111"/>
<circle cx="1212.2" cy="187.2" r="42.2" fill="none" stroke="#111" stroke-width="3.6"/>
<circle cx="1212" cy="187.3" r="34.6" fill="none" stroke="#111" stroke-width="1.3"/>
<polygon points="1192.7,139 1185,152 1182,158 1164,167.7 1255.2,230.1 1194.4,170" fill="#fff" stroke="#111" stroke-width="1.1" stroke-linejoin="miter" />
<line x1="1164" y1="167.7" x2="1194.4" y2="170" stroke="#111" stroke-width="1.1" />
<polygon points="1192.7,139 1255.2,230.1 1194.4,170" fill="#111" stroke="#111" stroke-width="0.8" stroke-linejoin="miter" />
<text x="0" y="12" font-size="35.5" text-anchor="middle" style="font-style:normal;stroke-width:0.2px" transform="translate(1268.5,243) rotate(-46.6) scale(0.8,1)">N</text>
</svg></body></html>
